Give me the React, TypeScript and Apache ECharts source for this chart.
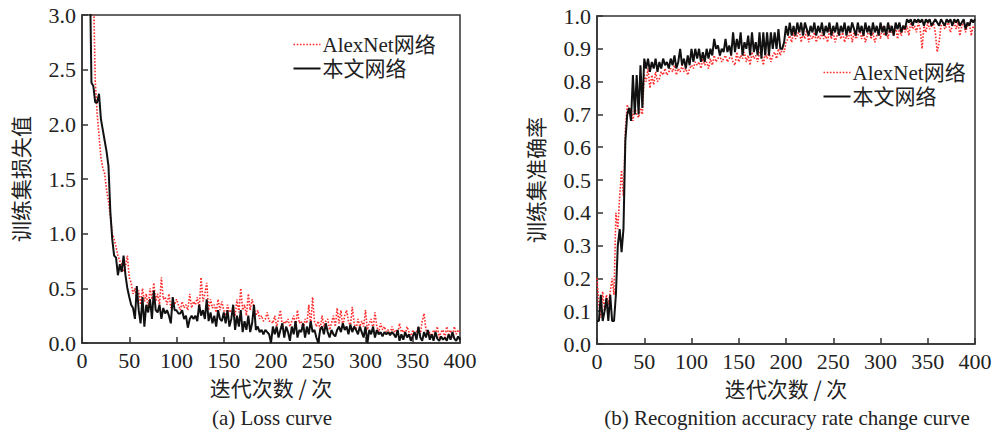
import React, { useEffect, useRef } from "react";
import * as echarts from "echarts";

// Iterations sampled every 2 steps: 0, 2, 4, ..., 400
const ITER_STEP = 2;

const lossAlexNet = [
  6.0, 5.6, 5.2, 4.8, 4.4, 4.0, 3.3, 2.4, 2.1, 1.9,
  1.7, 1.6, 1.55, 1.4, 1.3, 1.15, 1.0, 0.95, 0.88, 0.8,
  0.75, 0.72, 0.65, 0.7, 0.8, 0.6, 0.55, 0.45, 0.5, 0.4,
  0.48, 0.35, 0.5, 0.38, 0.45, 0.32, 0.5, 0.4, 0.55, 0.38,
  0.45, 0.35, 0.6, 0.4, 0.42, 0.35, 0.45, 0.32, 0.38, 0.35,
  0.4, 0.35, 0.3, 0.38, 0.32, 0.35, 0.3, 0.45, 0.32, 0.38,
  0.35, 0.42, 0.3, 0.6, 0.38, 0.45, 0.55, 0.3, 0.4, 0.32,
  0.35, 0.28, 0.4, 0.3, 0.38, 0.3, 0.25, 0.35, 0.28, 0.3,
  0.32, 0.25, 0.4, 0.28, 0.5, 0.3, 0.35, 0.25, 0.45, 0.3,
  0.4, 0.32, 0.25, 0.3, 0.22, 0.25, 0.2, 0.22, 0.28, 0.2,
  0.2, 0.18, 0.25, 0.15, 0.22, 0.3, 0.15, 0.2, 0.18, 0.22,
  0.15, 0.2, 0.25, 0.15, 0.3, 0.18, 0.2, 0.12, 0.22, 0.18,
  0.35, 0.15, 0.42, 0.2, 0.15, 0.2, 0.12, 0.25, 0.15, 0.2,
  0.22, 0.12, 0.18, 0.25, 0.15, 0.32, 0.18, 0.3, 0.15, 0.25,
  0.3, 0.2, 0.15, 0.33, 0.18, 0.12, 0.22, 0.15, 0.2, 0.15,
  0.3, 0.12, 0.18, 0.22, 0.12, 0.28, 0.15, 0.1, 0.18, 0.12,
  0.15, 0.1, 0.12, 0.08, 0.15, 0.1, 0.12, 0.08, 0.18, 0.1,
  0.12, 0.08, 0.15, 0.1, 0.05, 0.12, 0.08, 0.1, 0.15, 0.08,
  0.2, 0.27, 0.12, 0.08, 0.1, 0.05, 0.12, 0.08, 0.15, 0.05,
  0.1, 0.12, 0.05, 0.15, 0.08, 0.12, 0.05, 0.15, 0.08, 0.12,
  0.1,
];

const lossOurs = [
  6.0, 5.5, 5.0, 4.5, 3.6, 2.38, 2.35, 2.2, 2.2, 2.28,
  2.05, 1.95, 1.85, 1.75, 1.62, 1.2, 0.95, 0.8, 0.78, 0.62,
  0.72, 0.65, 0.8, 0.62, 0.5, 0.42, 0.35, 0.32, 0.22, 0.52,
  0.3, 0.18, 0.42, 0.15, 0.35, 0.28, 0.4, 0.22, 0.48, 0.3,
  0.28, 0.35, 0.22, 0.32, 0.27, 0.3, 0.25, 0.18, 0.42, 0.3,
  0.3, 0.27, 0.27, 0.3, 0.22, 0.25, 0.14, 0.22, 0.25, 0.22,
  0.25, 0.2, 0.35, 0.25, 0.3, 0.22, 0.4, 0.2, 0.28, 0.18,
  0.25, 0.15, 0.3, 0.22, 0.2, 0.28, 0.18, 0.3, 0.15, 0.22,
  0.35, 0.12, 0.25, 0.15, 0.3, 0.1, 0.2, 0.12, 0.25, 0.1,
  0.18, 0.35, 0.12, 0.15, 0.1, 0.12, 0.08, 0.12, 0.1, 0.08,
  0.0, 0.15, 0.08, 0.15, 0.05, 0.12, 0.18, 0.05, 0.15, 0.1,
  0.02, 0.15, 0.08, 0.2, 0.05, 0.12, 0.1, 0.18, 0.05, 0.15,
  0.08, 0.2, 0.1, 0.12, 0.05, 0.0, 0.12, 0.15, 0.08, 0.18,
  0.1, 0.05, 0.12, 0.08, 0.06, 0.12, 0.15, 0.1, 0.18, 0.12,
  0.15, 0.08, 0.17, 0.1, 0.15, 0.12, 0.08, 0.15, 0.1, 0.05,
  0.15, 0.0, 0.12, 0.08, 0.15, 0.05, 0.12, 0.08, 0.1, 0.06,
  0.1, 0.08, 0.1, 0.07, 0.1, 0.08, 0.05, 0.12, 0.02, 0.08,
  0.03, 0.1, 0.05, 0.08, 0.02, 0.06, 0.1, 0.03, 0.15, 0.05,
  0.02, 0.1, 0.05, 0.12, 0.03, 0.08, 0.02, 0.1, 0.04, 0.02,
  0.06, 0.03, 0.05, 0.02, 0.08, 0.03, 0.1, 0.04, 0.02, 0.06,
  0.03,
];

const accAlexNet = [
  0.2, 0.12, 0.08, 0.16, 0.1, 0.15, 0.12, 0.16, 0.2, 0.15,
  0.4, 0.35, 0.45, 0.53, 0.45, 0.65, 0.73, 0.7, 0.72, 0.68,
  0.72, 0.7, 0.69, 0.72, 0.7, 0.82, 0.8, 0.84, 0.78, 0.82,
  0.79, 0.83, 0.8, 0.81, 0.83, 0.82, 0.84, 0.82, 0.83, 0.84,
  0.83, 0.85, 0.82, 0.84, 0.83, 0.85, 0.83, 0.84, 0.82, 0.84,
  0.85, 0.84, 0.86, 0.85, 0.86, 0.84, 0.87, 0.85, 0.86, 0.84,
  0.87, 0.85, 0.88, 0.86, 0.87, 0.88, 0.86, 0.87, 0.88, 0.86,
  0.87, 0.88, 0.86, 0.85, 0.89, 0.86, 0.88, 0.87, 0.89, 0.86,
  0.88, 0.85, 0.89, 0.87, 0.88, 0.86, 0.89, 0.88, 0.85, 0.89,
  0.87, 0.89, 0.86, 0.88, 0.89, 0.87, 0.9, 0.88, 0.9, 0.89,
  0.92, 0.93, 0.94, 0.92, 0.95, 0.93, 0.94, 0.96, 0.92, 0.95,
  0.93, 0.96, 0.92, 0.94, 0.93, 0.95, 0.92, 0.94, 0.93, 0.95,
  0.93, 0.94, 0.92, 0.96, 0.93, 0.95, 0.92, 0.94, 0.96, 0.93,
  0.95, 0.92, 0.94, 0.93, 0.96, 0.92, 0.95, 0.93, 0.94, 0.96,
  0.93, 0.95, 0.92, 0.94, 0.96, 0.93, 0.95, 0.92, 0.94, 0.96,
  0.93, 0.97, 0.94, 0.96, 0.93, 0.97, 0.95, 0.94, 0.97, 0.93,
  0.96, 0.94, 0.97, 0.95, 0.97, 0.94, 0.98, 0.96, 0.97, 0.95,
  0.98, 0.96, 0.9, 0.97, 0.95, 0.98, 0.96, 0.97, 0.98, 0.95,
  0.89, 0.92, 0.97, 0.98, 0.96, 0.97, 0.98, 0.95, 0.97, 0.98,
  0.96, 0.98, 0.94, 0.97, 0.98, 0.95, 0.97, 0.98, 0.94, 0.97,
  0.96,
];

const accOurs = [
  0.07, 0.07, 0.15, 0.07, 0.1, 0.14, 0.07, 0.15, 0.07, 0.07,
  0.15, 0.3, 0.35, 0.28, 0.35, 0.62, 0.7, 0.72, 0.68, 0.82,
  0.7, 0.82, 0.7, 0.85, 0.72, 0.87, 0.84, 0.87, 0.83, 0.86,
  0.84, 0.87, 0.83, 0.86, 0.84, 0.87, 0.85, 0.86, 0.84, 0.87,
  0.85, 0.88, 0.84, 0.86, 0.9, 0.85, 0.87, 0.84, 0.88, 0.85,
  0.9, 0.86, 0.9, 0.87, 0.9, 0.86, 0.89, 0.86, 0.9, 0.87,
  0.9, 0.88, 0.93, 0.9, 0.91, 0.88, 0.9, 0.89, 0.93, 0.89,
  0.91, 0.88, 0.95, 0.89, 0.93, 0.9, 0.95, 0.88, 0.92, 0.9,
  0.94, 0.88, 0.95, 0.89, 0.92, 0.88, 0.95, 0.87, 0.95, 0.88,
  0.95, 0.88, 0.95, 0.9, 0.95, 0.9, 0.96, 0.9, 0.9, 0.92,
  0.97, 0.94, 0.98, 0.94, 0.97, 0.94, 0.98, 0.95, 0.98, 0.94,
  0.98, 0.96, 0.94, 0.97, 0.95, 0.98, 0.94, 0.97, 0.95, 0.98,
  0.94, 0.97, 0.95, 0.98, 0.94, 0.97, 0.95, 0.98, 0.94, 0.97,
  0.95, 0.98, 0.94, 0.97, 0.95, 0.98, 0.96, 0.94, 0.98, 0.95,
  0.97, 0.94, 0.98, 0.95, 0.97, 0.94, 0.98, 0.95, 0.97, 0.94,
  0.98, 0.95, 0.97, 0.94, 0.98, 0.95, 0.97, 0.94, 0.98, 0.96,
  0.98, 0.95, 0.97, 0.96, 0.99, 0.98, 0.99, 0.97, 0.99, 0.98,
  0.99, 0.98, 0.99, 0.97, 0.99, 0.98, 0.99, 0.97, 0.98, 0.99,
  0.98, 0.97, 0.99, 0.98, 0.97, 0.99, 0.98, 0.99, 0.97, 0.99,
  0.98, 0.99, 0.97, 0.98, 0.99, 0.96, 0.98, 0.97, 0.99, 0.98,
  0.99,
];

const seriesNames = ["AlexNet网络", "本文网络"];
const xAxisName = "迭代次数 / 次";
const lossAxisName = "训练集损失值";
const accAxisName = "训练集准确率";
const captionA = "(a) Loss curve";
const captionB = "(b) Recognition accuracy rate change curve";

const SERIF = '"Liberation Serif", "Times New Roman", "Noto Sans CJK SC", serif';
const CJK = '"Noto Sans CJK SC", sans-serif';
const AXIS_COLOR = "#333";
const TEXT_COLOR = "#222";
const RED = "#ff2a2a";
const BLACK = "#111";

const toPairs = (arr: number[]) => arr.map((v, i) => [i * ITER_STEP, v]);

const legendText = (y: number, text: string) => ({
  type: "text",
  x: 29,
  y,
  style: { text, fontSize: 21, fontFamily: SERIF, fill: TEXT_COLOR, textVerticalAlign: "middle" },
});

const legendGroup = (left: number, top: number) => ({
  type: "group",
  left,
  top,
  children: [
    { type: "line", shape: { x1: 0, y1: 11, x2: 27, y2: 11 }, style: { stroke: RED, lineWidth: 1.6, lineDash: [1.6, 1.6] } },
    legendText(11, seriesNames[0]),
    { type: "line", shape: { x1: 0, y1: 35, x2: 27, y2: 35 }, style: { stroke: BLACK, lineWidth: 2 } },
    legendText(35, seriesNames[1]),
  ],
});

const caption = (x: number, text: string) => ({
  type: "text",
  x,
  y: 418,
  style: { text, fontSize: 21, fontFamily: SERIF, fill: TEXT_COLOR, textAlign: "center", textVerticalAlign: "middle" },
});

export default function App() {
  const ref = useRef<HTMLDivElement>(null);
  useEffect(() => {
    if (!ref.current) return;
    const chart = echarts.init(ref.current, null, { renderer: "svg" });

    const xAxisBase = (gridIndex: number) => ({
      type: "value" as const,
      gridIndex,
      min: 0,
      max: 400,
      interval: 50,
      name: xAxisName,
      nameLocation: "middle" as const,
      nameGap: 33,
      nameTextStyle: { fontFamily: CJK, fontSize: 21, color: TEXT_COLOR },
      axisLine: { show: true, lineStyle: { color: AXIS_COLOR, width: 1.5 } },
      axisTick: { show: true, inside: true, length: 6, lineStyle: { color: AXIS_COLOR, width: 1.5 } },
      axisLabel: { fontFamily: SERIF, fontSize: 22, color: TEXT_COLOR, margin: 6 },
      splitLine: { show: false },
    });

    const yAxisBase = (gridIndex: number, max: number, interval: number, name: string) => ({
      type: "value" as const,
      gridIndex,
      min: 0,
      max,
      interval,
      name,
      nameLocation: "middle" as const,
      nameGap: 52,
      nameRotate: 90,
      nameTextStyle: { fontFamily: CJK, fontSize: 21, color: TEXT_COLOR },
      axisLine: { show: true, lineStyle: { color: AXIS_COLOR, width: 1.5 } },
      axisTick: { show: true, inside: true, length: 6, lineStyle: { color: AXIS_COLOR, width: 1.5 } },
      axisLabel: {
        fontFamily: SERIF,
        fontSize: 22,
        color: TEXT_COLOR,
        margin: 6,
        formatter: (v: number) => v.toFixed(1),
      },
      splitLine: { show: false },
    });

    const redStyle = { color: RED, width: 1.6, type: "dotted" as const };
    const blackStyle = { color: BLACK, width: 2 };

    const lineSeries = (name: string, idx: number, data: number[], style: any, z: number) => ({
      name,
      type: "line",
      xAxisIndex: idx,
      yAxisIndex: idx,
      data: toPairs(data),
      showSymbol: false,
      symbol: "none",
      lineStyle: style,
      itemStyle: { color: style.color },
      clip: true,
      z,
    });

    chart.setOption({
      animation: false,
      grid: [
        { left: 82, top: 15, width: 378, height: 328, show: true, borderColor: AXIS_COLOR, borderWidth: 1.5, backgroundColor: "transparent" },
        { left: 597, top: 16, width: 378, height: 328, show: true, borderColor: AXIS_COLOR, borderWidth: 1.5, backgroundColor: "transparent" },
      ],
      xAxis: [xAxisBase(0), xAxisBase(1)],
      yAxis: [yAxisBase(0, 3, 0.5, lossAxisName), yAxisBase(1, 1, 0.1, accAxisName)],
      graphic: [legendGroup(291, 34), legendGroup(821, 62), caption(272, captionA), caption(787, captionB)],
      series: [
        lineSeries("loss-alexnet", 0, lossAlexNet, redStyle, 2),
        lineSeries("loss-ours", 0, lossOurs, blackStyle, 3),
        lineSeries("acc-alexnet", 1, accAlexNet, redStyle, 2),
        lineSeries("acc-ours", 1, accOurs, blackStyle, 3),
      ],
    });
    return () => chart.dispose();
  }, []);

  return (
    <div
      ref={ref}
      style={{ position: "absolute", left: 0, top: 0, width: 997, height: 432, background: "#fff" }}
    />
  );
}
